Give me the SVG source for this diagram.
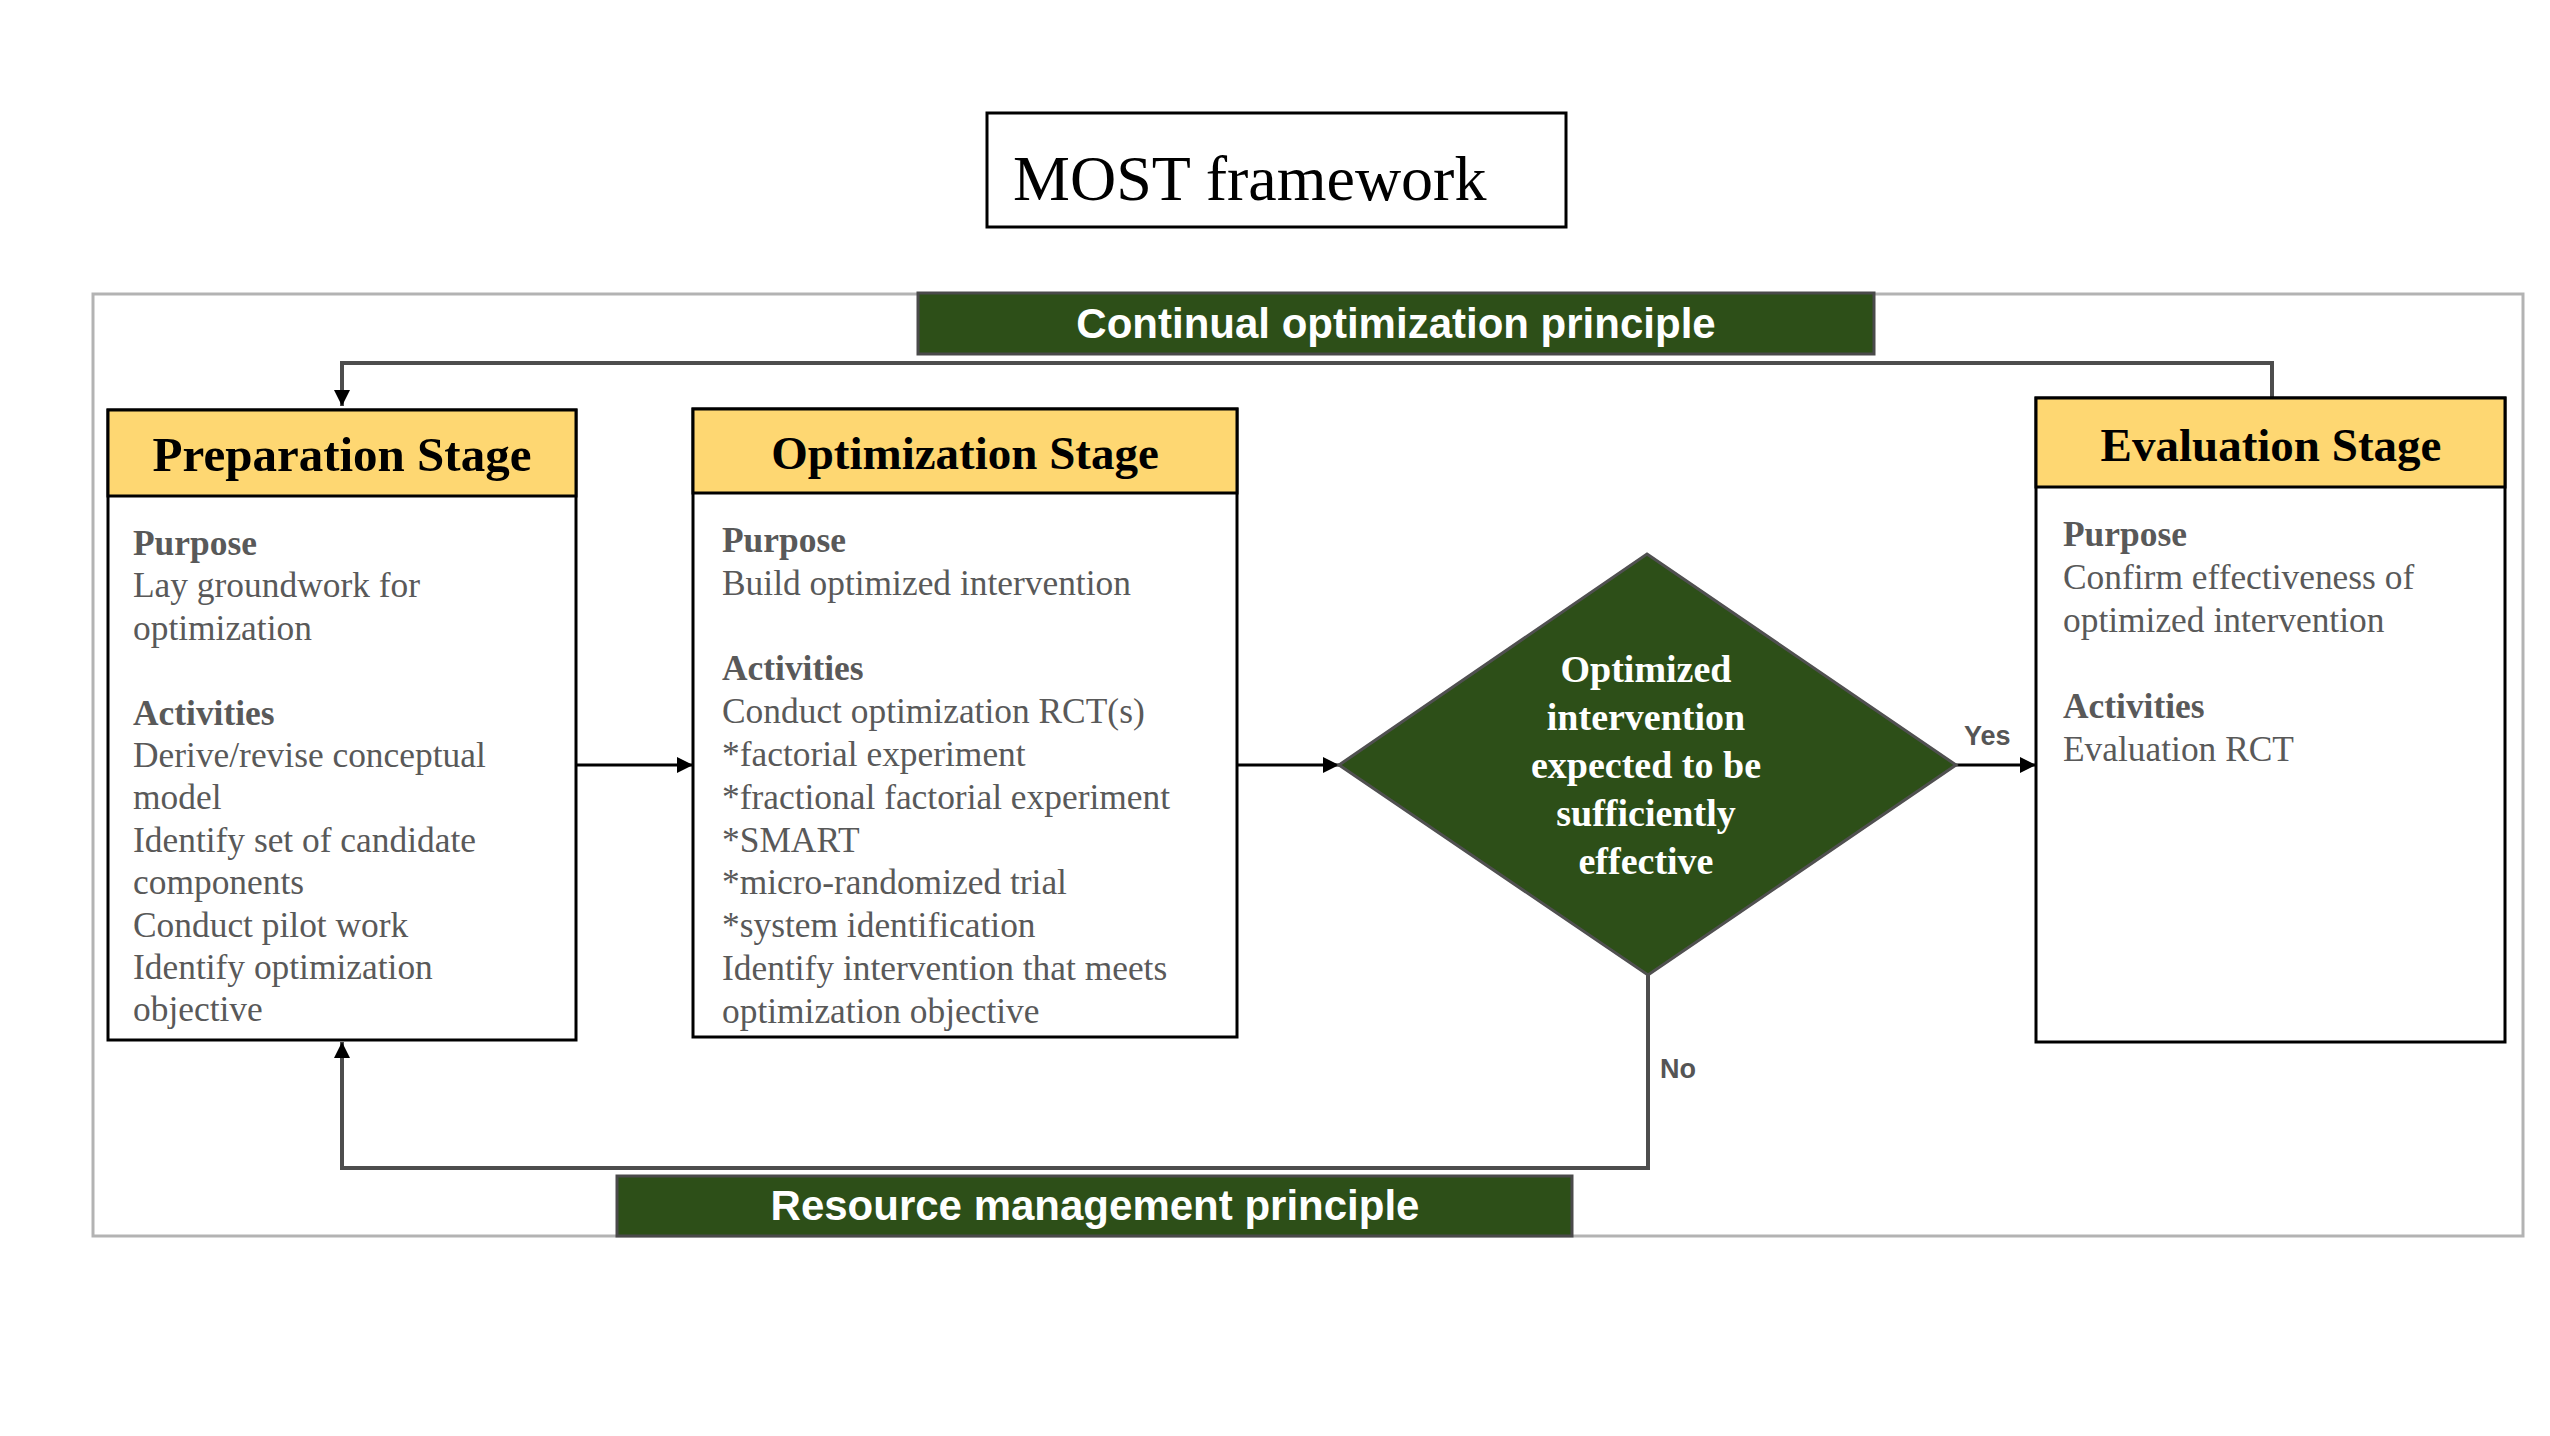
<svg xmlns="http://www.w3.org/2000/svg" width="2550" height="1436" viewBox="0 0 2550 1436">
<defs>
<style>
.frame{fill:none;stroke:#b3b3b3;stroke-width:3}
.box{fill:#fff;stroke:#000;stroke-width:3}
.hdr{fill:#fed772;stroke:#000;stroke-width:3}
.hdrtxt{font-family:"Liberation Serif","Times New Roman",serif;font-weight:bold;font-size:47px;fill:#000;text-anchor:middle}
.body{font-family:"Liberation Serif","Times New Roman",serif;font-size:35.4px;fill:#595959}
.b{font-weight:bold}
.banner{fill:#2d4f18;stroke:#4a4a4a;stroke-width:3}
.bantxt{font-family:"Liberation Sans",Arial,sans-serif;font-weight:bold;font-size:42px;fill:#fff;text-anchor:middle}
.dia{fill:#2d4f18;stroke:#505050;stroke-width:3}
.diatxt{font-family:"Liberation Serif","Times New Roman",serif;font-weight:bold;font-size:38px;fill:#fff;text-anchor:middle}
.conn{fill:none;stroke:#000;stroke-width:3}
.loop{fill:none;stroke:#4d4d4d;stroke-width:4}
.lbl{font-family:"Liberation Sans",Arial,sans-serif;font-weight:bold;font-size:27px;fill:#555}
</style>
<marker id="arr" viewBox="0 0 10 10" refX="10" refY="5" markerWidth="16" markerHeight="16" markerUnits="userSpaceOnUse" orient="auto">
<path d="M0,0 L10,5 L0,10 z" fill="#000"/>
</marker>
</defs>
<rect width="2550" height="1436" fill="#fff"/>

<g id="title">
<rect x="987" y="113" width="579" height="114" fill="#fff" stroke="#000" stroke-width="3"/>
<text x="1013" y="200" font-family="Liberation Serif,'Times New Roman',serif" font-size="64" fill="#000">MOST framework</text>
</g>

<rect id="outer-frame" class="frame" x="93" y="294" width="2430" height="942"/>

<g id="connectors">
<polyline class="loop" points="2272,398 2272,363 342,363 342,406" marker-end="url(#arr)"/>
<line class="conn" x1="576" y1="765" x2="693" y2="765" marker-end="url(#arr)"/>
<line class="conn" x1="1237" y1="765" x2="1339" y2="765" marker-end="url(#arr)"/>
<line class="conn" x1="1956" y1="765" x2="2036" y2="765" marker-end="url(#arr)"/>
<polyline class="loop" points="1648,975 1648,1168 342,1168 342,1042" marker-end="url(#arr)"/>
<text class="lbl" x="1964" y="745">Yes</text>
<text class="lbl" x="1660" y="1078">No</text>
</g>

<g id="continual-banner">
<rect class="banner" x="918" y="293" width="956" height="61"/>
<text class="bantxt" x="1396" y="338">Continual optimization principle</text>
</g>

<g id="resource-banner">
<rect class="banner" x="617" y="1176" width="955" height="60"/>
<text class="bantxt" x="1095" y="1220">Resource management principle</text>
</g>

<g id="preparation-stage">
<rect class="box" x="108" y="410" width="468" height="630"/>
<rect class="hdr" x="108" y="410" width="468" height="86"/>
<text class="hdrtxt" x="342" y="471" style="font-size:49px">Preparation Stage</text>
<text class="body" x="133" y="555"><tspan class="b">Purpose</tspan><tspan x="133" dy="42.4">Lay groundwork for</tspan><tspan x="133" dy="42.4">optimization</tspan><tspan x="133" dy="84.8" class="b">Activities</tspan><tspan x="133" dy="42.4">Derive/revise conceptual</tspan><tspan x="133" dy="42.4">model</tspan><tspan x="133" dy="42.4">Identify set of candidate</tspan><tspan x="133" dy="42.4">components</tspan><tspan x="133" dy="42.4">Conduct pilot work</tspan><tspan x="133" dy="42.4">Identify optimization</tspan><tspan x="133" dy="42.4">objective</tspan></text>
</g>

<g id="optimization-stage">
<rect class="box" x="693" y="409" width="544" height="628"/>
<rect class="hdr" x="693" y="409" width="544" height="84"/>
<text class="hdrtxt" x="965" y="469">Optimization Stage</text>
<text class="body" x="722" y="552"><tspan class="b">Purpose</tspan><tspan x="722" dy="42.8">Build optimized intervention</tspan><tspan x="722" dy="85.6" class="b">Activities</tspan><tspan x="722" dy="42.8">Conduct optimization RCT(s)</tspan><tspan x="722" dy="42.8">*factorial experiment</tspan><tspan x="722" dy="42.8">*fractional factorial experiment</tspan><tspan x="722" dy="42.8">*SMART</tspan><tspan x="722" dy="42.8">*micro-randomized trial</tspan><tspan x="722" dy="42.8">*system identification</tspan><tspan x="722" dy="42.8">Identify intervention that meets</tspan><tspan x="722" dy="42.8">optimization objective</tspan></text>
</g>

<g id="decision">
<polygon class="dia" points="1647,554 1956,765 1648,975 1339,765"/>
<text class="diatxt" x="1646" y="682">Optimized<tspan x="1646" dy="48">intervention</tspan><tspan x="1646" dy="48">expected to be</tspan><tspan x="1646" dy="48">sufficiently</tspan><tspan x="1646" dy="48">effective</tspan></text>
</g>

<g id="evaluation-stage">
<rect class="box" x="2036" y="398" width="469" height="644"/>
<rect class="hdr" x="2036" y="398" width="469" height="89"/>
<text class="hdrtxt" x="2271" y="461">Evaluation Stage</text>
<text class="body" x="2063" y="546"><tspan class="b">Purpose</tspan><tspan x="2063" dy="43">Confirm effectiveness of</tspan><tspan x="2063" dy="43">optimized intervention</tspan><tspan x="2063" dy="86" class="b">Activities</tspan><tspan x="2063" dy="43">Evaluation RCT</tspan></text>
</g>
</svg>
